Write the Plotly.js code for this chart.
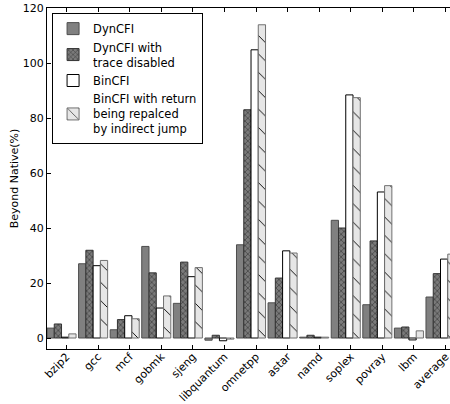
<!DOCTYPE html>
<html>
<head>
<meta charset="utf-8">
<script src="https://cdn.plot.ly/plotly-3.0.1.min.js"></script>
<style>
html, body { margin: 0; padding: 0; overflow: hidden; background: #fff; }
#chart { width: 470px; height: 404px; }
</style>
</head>
<body>
<div id="chart"></div>
<script>
const categories = ["bzip2", "gcc", "mcf", "gobmk", "sjeng", "libquantum", "omnetpp", "astar", "namd", "soplex", "povray", "lbm", "average"];
const dynCFI      = [3.6, 27.0, 3.0, 33.3, 12.6, -0.8, 33.9, 12.8, 0.3, 42.8, 12.1, 3.6, 14.9];
const dynCFINoTrace = [5.1, 31.9, 6.7, 23.7, 27.6, 1.0, 83.0, 21.8, 1.0, 40.0, 35.3, 4.0, 23.4];
const binCFI      = [0.3, 26.3, 8.1, 10.9, 22.3, -1.0, 104.8, 31.7, 0.3, 88.4, 53.1, -0.7, 28.7];
const binCFIRet   = [1.5, 28.2, 7.0, 15.3, 25.6, -0.4, 113.9, 30.9, 0.3, 87.4, 55.4, 2.6, 30.5];
const seriesNames = ["DynCFI", "DynCFI with<br>trace disabled", "BinCFI", "BinCFI with return<br>being repalced<br>by indirect jump"];
const yTicks = [0, 20, 40, 60, 80, 100, 120];

const xs = categories.map((c, i) => i);
const tickPos = categories.map((c, i) => i + 0.16);

const font = { family: "DejaVu Sans, sans-serif", size: 11, color: "#000" };
const legendFont = { family: "DejaVu Sans, sans-serif", size: 11.5, color: "#000" };

const traces = [
  { y: dynCFI, name: seriesNames[0],
    marker: { color: "#808080", line: { color: "#4d4d4d", width: 1 } } },
  { y: dynCFINoTrace, name: seriesNames[1],
    marker: { color: "#6e6e6e", line: { color: "#333", width: 1 },
      pattern: { shape: "x", size: 4, fgcolor: "#2a2a2a", bgcolor: "#7a7a7a", solidity: 0.25 } } },
  { y: binCFI, name: seriesNames[2],
    marker: { color: "#ffffff", line: { color: "#000", width: 1 } } },
  { y: binCFIRet, name: seriesNames[3],
    marker: { color: "#e6e6e6", line: { color: "#707070", width: 1 },
      pattern: { shape: "\\", size: 13, fgcolor: "#000", bgcolor: "#e6e6e6", solidity: 0.07 } } }
].map(t => Object.assign({ type: "bar", x: xs }, t));

const layout = {
  width: 470, height: 404,
  margin: { l: 47, r: 0, t: 8, b: 55 },
  paper_bgcolor: "#fff", plot_bgcolor: "#fff",
  font: font,
  barmode: "group", bargap: 0.08, bargroupgap: 0,
  showlegend: true,
  legend: { x: 0.012, y: 0.985, xanchor: "left", yanchor: "top",
    bgcolor: "#fff", bordercolor: "#000", borderwidth: 1,
    font: legendFont, tracegroupgap: 0, traceorder: "normal" },
  xaxis: { range: [-0.46, 12.934], tickmode: "array", tickvals: tickPos, ticktext: categories,
    tickangle: -45, ticks: "inside", ticklen: 4, tickcolor: "#000", ticklabelstandoff: -4,
    showline: true, linecolor: "#000", linewidth: 1, mirror: "ticks",
    showgrid: false, zeroline: false, tickfont: font },
  yaxis: { range: [-4, 120], tickmode: "array", tickvals: yTicks,
    ticks: "inside", ticklen: 4, tickcolor: "#000",
    showline: true, linecolor: "#000", linewidth: 1, mirror: "ticks",
    showgrid: false, zeroline: false, tickfont: font,
    title: { text: "Beyond Native(%)", font: font, standoff: 1 } }
};

Plotly.newPlot("chart", traces, layout, { displayModeBar: false, staticPlot: true });
</script>
</body>
</html>
